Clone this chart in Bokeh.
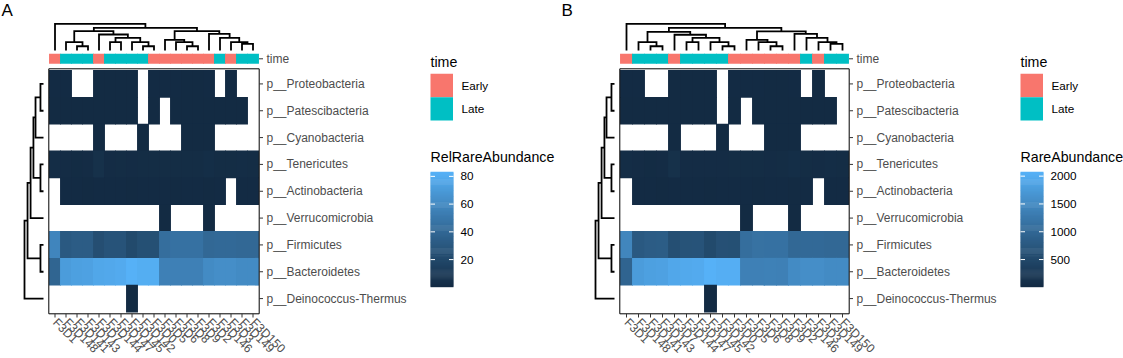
import numpy as np
from bokeh.plotting import figure
from bokeh.models import Range1d, ColumnDataSource, LinearColorMapper
from bokeh.layouts import row
from bokeh.transform import transform
from bokeh.core.properties import value
from bokeh.embed import file_html
from bokeh.resources import INLINE

# ---------------- data ----------------
samples = ["F3D1", "F3D148", "F3D141", "F3D143", "F3D7", "F3D144", "F3D147", "F3D145", "F3D142",
           "F3D0", "F3D5", "F3D6", "F3D8", "F3D9", "F3D2", "F3D146", "F3D3", "F3D149", "F3D150"]
time_group = ["Early", "Late", "Late", "Late", "Early", "Late", "Late", "Late", "Late",
              "Early", "Early", "Early", "Early", "Early", "Early", "Late", "Early", "Late", "Late"]
time_levels = ["Early", "Late"]
time_colors = ["#F8766D", "#00BFC4"]
phyla = ["p__Proteobacteria", "p__Patescibacteria", "p__Cyanobacteria", "p__Tenericutes",
         "p__Actinobacteria", "p__Verrucomicrobia", "p__Firmicutes", "p__Bacteroidetes",
         "p__Deinococcus-Thermus"]

# relative rare abundance (%), 0 = absent
rel_proteobacteria = [0.6, 0.5, 0, 0, 0.4, 0.3, 0.4, 0.2, 0, 0.5, 0.7, 0.5, 0.4, 0.3, 0.5, 0, 0.4, 0, 0]
rel_patescibacteria = [0.3, 0.2, 0.2, 0.3, 0.4, 0.2, 0.2, 0.1, 0, 0.3, 0, 0.4, 0.3, 0.2, 0.3, 0.2, 0.2, 0.3, 0]
rel_cyanobacteria = [0, 0, 0, 0, 0.2, 0, 0, 0, 0.1, 0, 0, 0, 0.2, 0.3, 0.2, 0, 0, 0, 0]
rel_tenericutes = [2.0, 1.2, 1.0, 1.1, 4.2, 1.3, 1.4, 1.2, 1.4, 1.5, 1.6, 1.5, 1.4, 1.5, 2.2, 1.6, 1.4, 1.8, 1.7]
rel_actinobacteria = [0, 0.6, 0.5, 0.4, 0.7, 0.5, 0.6, 0.4, 0.5, 0.6, 0.5, 0.4, 0.6, 0.5, 0.4, 0.5, 0, 0.6, 0.5]
rel_verrucomicrobia = [0, 0, 0, 0, 0, 0, 0, 0, 0, 0, 0.1, 0, 0, 0, 0.1, 0, 0, 0, 0]
rel_firmicutes = [58, 31, 33, 33, 24, 27, 27, 21, 25, 25, 44, 46, 46, 46, 40, 41, 41, 40, 40]
rel_bacteroidetes = [38, 71, 73, 74, 77, 78, 79, 83, 81, 81, 55, 55, 55, 55, 61, 63, 63, 61, 61]
rel_deinococcus = [0, 0, 0, 0, 0, 0, 0, 0.1, 0, 0, 0, 0, 0, 0, 0, 0, 0, 0, 0]

# rare abundance (counts), 0 = absent
abs_proteobacteria = [15, 12, 0, 0, 10, 8, 10, 5, 0, 12, 17, 12, 10, 8, 12, 0, 10, 0, 0]
abs_patescibacteria = [8, 5, 5, 8, 10, 5, 5, 3, 0, 8, 0, 10, 8, 5, 8, 5, 5, 8, 0]
abs_cyanobacteria = [0, 0, 0, 0, 5, 0, 0, 0, 3, 0, 0, 0, 5, 8, 5, 0, 0, 0, 0]
abs_tenericutes = [50, 30, 25, 28, 105, 33, 35, 30, 35, 38, 40, 38, 35, 38, 55, 40, 35, 45, 43]
abs_actinobacteria = [0, 15, 12, 10, 18, 12, 15, 10, 12, 15, 12, 10, 15, 12, 10, 12, 0, 15, 12]
abs_verrucomicrobia = [0, 0, 0, 0, 0, 0, 0, 0, 0, 0, 3, 0, 0, 0, 3, 0, 0, 0, 0]
abs_firmicutes = [1452, 778, 822, 829, 601, 673, 680, 524, 628, 622, 1098, 1151, 1146, 1149, 1003, 1027, 1021, 998, 1004]
abs_bacteroidetes = [948, 1771, 1822, 1849, 1927, 1952, 1973, 2071, 2024, 2028, 1376, 1372, 1381, 1370, 1524, 1577, 1571, 1522, 1529]
abs_deinococcus = [0, 0, 0, 0, 0, 0, 0, 3, 0, 0, 0, 0, 0, 0, 0, 0, 0, 0, 0]

# dendrograms: (child_a, child_b, height); ids < n are leaves (display order), n+k = k-th merge
col_merges_rel = [(2, 3, 0.16), (1, 19, 0.31), (5, 6, 0.31), (8, 9, 0.16), (7, 22, 0.31),
                  (21, 23, 0.475), (4, 24, 0.60), (20, 25, 0.725), (12, 13, 0.16), (11, 27, 0.31),
                  (10, 28, 0.40), (17, 18, 0.25), (16, 30, 0.31), (15, 31, 0.475), (14, 32, 0.625),
                  (29, 33, 0.725), (26, 34, 0.85), (0, 35, 1.0)]
col_merges_abs = [(2, 3, 0.16), (1, 19, 0.31), (5, 6, 0.31), (8, 9, 0.16), (7, 22, 0.31),
                  (21, 23, 0.475), (4, 24, 0.59), (20, 25, 0.70), (12, 13, 0.16), (11, 27, 0.31),
                  (10, 28, 0.40), (17, 18, 0.25), (16, 30, 0.31), (15, 31, 0.475), (14, 32, 0.625),
                  (29, 33, 0.72), (26, 34, 0.85), (0, 35, 1.0)]
row_merges_rel = [(0, 1, 0.16), (9, 2, 0.42), (3, 4, 0.16), (10, 11, 0.53), (12, 5, 0.68),
                  (6, 7, 0.16), (13, 14, 0.84), (15, 8, 1.0)]
row_merges_abs = [(0, 1, 0.16), (9, 2, 0.42), (3, 4, 0.16), (10, 11, 0.53), (12, 5, 0.68),
                  (6, 7, 0.16), (13, 14, 0.84), (15, 8, 1.0)]

rel_rows = [rel_proteobacteria, rel_patescibacteria, rel_cyanobacteria, rel_tenericutes,
            rel_actinobacteria, rel_verrucomicrobia, rel_firmicutes, rel_bacteroidetes, rel_deinococcus]
abs_rows = [abs_proteobacteria, abs_patescibacteria, abs_cyanobacteria, abs_tenericutes,
            abs_actinobacteria, abs_verrucomicrobia, abs_firmicutes, abs_bacteroidetes, abs_deinococcus]

# ---------------- colour gradient (CIELAB, like ggplot2) ----------------
_M = np.array([[0.4124, 0.3576, 0.1805], [0.2126, 0.7152, 0.0722], [0.0193, 0.1192, 0.9505]])
_W = _M @ np.ones(3)


def _lab(hexc):
    c = np.array([int(hexc[i:i + 2], 16) for i in (1, 3, 5)]) / 255.0
    lin = np.where(c <= 0.04045, c / 12.92, ((c + 0.055) / 1.055) ** 2.4)
    t = (_M @ lin) / _W
    d = 6 / 29
    f = np.where(t > d ** 3, np.cbrt(t), t / (3 * d * d) + 4 / 29)
    return np.array([116 * f[1] - 16, 500 * (f[0] - f[1]), 200 * (f[1] - f[2])])


def _hex(lab):
    L, a, b = lab
    fy = (L + 16) / 116
    f = np.array([fy + a / 500, fy, fy - b / 200])
    d = 6 / 29
    t = np.where(f > d, f ** 3, 3 * d * d * (f - 4 / 29)) * _W
    lin = np.linalg.solve(_M, t)
    lin = np.clip(lin, 0, 1)
    c = np.where(lin <= 0.0031308, 12.92 * lin, 1.055 * lin ** (1 / 2.4) - 0.055)
    c = np.clip(np.round(c * 255), 0, 255).astype(int)
    return "#%02x%02x%02x" % tuple(c)


_l0, _l1 = _lab("#132B43"), _lab("#56B1F7")
PALETTE = [_hex(_l0 + (_l1 - _l0) * s) for s in np.linspace(0, 1, 256)]

FONT = value("Liberation Sans")
AXIS_COL = "#4D4D4D"


def dendro_paths(merges, n):
    pos = {i: (i + 0.5, 0.0) for i in range(n)}
    paths = []
    for k, (a, b, h) in enumerate(merges):
        xa, ha = pos[a]
        xb, hb = pos[b]
        paths.append(([xa, xa, xb, xb], [ha, h, h, hb]))
        pos[n + k] = ((xa + xb) / 2.0, h)
    return paths


def make_panel(letter, fig_left, fig_w, hm_left, hm_right, rows, col_merges, row_merges,
               bar_title, bar_ticks):
    n_c, n_r = len(samples), len(phyla)
    hm_top, hm_bot = 70.0, 311.5
    fig_top, fig_h = 0.0, 358
    cw = (hm_right - hm_left) / n_c
    rh = (hm_bot - hm_top) / n_r

    def X(px):
        return (px - hm_left) / cw

    def Y(py):
        return (py - hm_top) / rh

    p = figure(width=fig_w, height=fig_h,
               x_range=Range1d(X(fig_left), X(fig_left + fig_w)),
               y_range=Range1d(Y(fig_top + fig_h), Y(fig_top)),
               x_axis_location=None, y_axis_location=None,
               output_backend="svg", toolbar_location=None, min_border=0,
               outline_line_color=None, background_fill_color="white", border_fill_color="white")
    p.xgrid.visible = False
    p.ygrid.visible = False

    vals = np.array(rows, dtype=float)
    nz = vals[vals > 0]
    vmin, vmax = float(nz.min()), float(nz.max())
    mapper = LinearColorMapper(palette=PALETTE, low=vmin, high=vmax, nan_color="white")

    # heatmap cells (slightly overlapping so that no seams show)
    rr, cc = np.nonzero(vals > 0)
    src = ColumnDataSource(dict(x=cc + 0.5, y=rr + 0.5, v=vals[rr, cc]))
    p.rect("x", "y", 1 + 0.9 / cw, 1 + 0.9 / rh, source=src, fill_color=transform("v", mapper),
           line_color=None)
    # panel border
    p.quad(left=[X(hm_left - 0.7)], right=[X(hm_right + 0.7)], top=[Y(68.3)], bottom=[Y(313.3)],
           fill_color=None, line_color="black", line_width=1)

    # right ticks and row labels
    ry = np.arange(n_r) + 0.5
    p.segment(x0=[X(hm_right + 0.7)] * n_r, y0=ry, x1=[X(hm_right + 4.5)] * n_r, y1=ry,
              line_color="#333333", line_width=1)
    p.text(x=[X(hm_right + 8)] * n_r, y=ry, text=phyla, text_font=FONT,
           text_font_size=value("12px"), text_color=AXIS_COL, text_baseline="middle", text_align="left")

    # bottom ticks and sample labels
    cx = np.arange(n_c) + 0.5
    p.segment(x0=cx, y0=[Y(313.3)] * n_c, x1=cx, y1=[Y(317)] * n_c, line_color="#333333", line_width=1)
    p.text(x=cx, y=[Y(320)] * n_c, text=samples, angle=-np.pi / 4, text_font=FONT,
           text_font_size=value("12px"), text_color=AXIS_COL, text_baseline="middle", text_align="left")

    # annotation bar (time)
    ann_col = [time_colors[time_levels.index(t)] for t in time_group]
    p.rect(x=cx, y=[Y(58.3)] * n_c, width=1 + 0.9 / cw, height=10.0 / rh, fill_color=ann_col,
           line_color=None)
    p.segment(x0=[X(hm_right + 0.5)], y0=[Y(58.3)], x1=[X(hm_right + 4.5)], y1=[Y(58.3)],
              line_color="#333333", line_width=1)
    p.text(x=[X(hm_right + 8)], y=[Y(58.3)], text=["time"], text_font=FONT,
           text_font_size=value("12px"), text_color=AXIS_COL, text_baseline="middle")

    # column dendrogram
    cp = dendro_paths(col_merges, n_c)
    p.multi_line(xs=[a for a, b in cp],
                 ys=[[Y(50.0 - h * 26.7) for h in b] for a, b in cp],
                 line_color="black", line_width=1.8, line_join="miter")
    # row dendrogram
    rp = dendro_paths(row_merges, n_r)
    p.multi_line(xs=[[X(hm_left - 6.0 - h * 19.0) for h in b] for a, b in rp],
                 ys=[a for a, b in rp],
                 line_color="black", line_width=1.8, line_join="miter")

    # legends
    lx = hm_right + 172.0
    p.text(x=[X(lx)], y=[Y(61.0)], text=["time"], text_font=FONT, text_font_size=value("14.2px"),
           text_color="black", text_baseline="middle")
    key_top = [73.3, 96.7]
    p.quad(left=[X(lx)] * 2, right=[X(lx + 22.5)] * 2, top=[Y(t) for t in key_top],
           bottom=[Y(t + 23.4) for t in key_top], fill_color=time_colors, line_color=None)
    p.text(x=[X(lx + 31)] * 2, y=[Y(t + 11.7) for t in key_top], text=time_levels, text_font=FONT,
           text_font_size=value("11.7px"), text_color="black", text_baseline="middle")

    p.text(x=[X(lx)], y=[Y(156.7)], text=[bar_title], text_font=FONT, text_font_size=value("14.2px"),
           text_color="black", text_baseline="middle")
    bar_top, bar_bot = 171.7, 286.7

    def BY(v):
        return bar_bot - (v - vmin) / (vmax - vmin) * (bar_bot - bar_top)

    nb = 120
    edges = np.linspace(vmin, vmax, nb + 1)
    mids = (edges[:-1] + edges[1:]) / 2
    bsrc = ColumnDataSource(dict(l=[X(lx)] * nb, r=[X(lx + 23)] * nb,
                                 t=[Y(BY(e) - 0.5) for e in edges[1:]], b=[Y(BY(e)) for e in edges[:-1]],
                                 v=mids))
    p.quad(left="l", right="r", top="t", bottom="b", source=bsrc,
           fill_color=transform("v", mapper), line_color=None)
    ty = [Y(BY(t)) for t in bar_ticks]
    nt = len(bar_ticks)
    p.segment(x0=[X(lx)] * nt, y0=ty, x1=[X(lx + 4.5)] * nt, y1=ty, line_color="white", line_width=1)
    p.segment(x0=[X(lx + 18.5)] * nt, y0=ty, x1=[X(lx + 23)] * nt, y1=ty, line_color="white", line_width=1)
    p.text(x=[X(lx + 30)] * nt, y=ty, text=[str(t) for t in bar_ticks], text_font=FONT,
           text_font_size=value("11.7px"), text_color="black", text_baseline="middle")

    # panel tag
    p.text(x=[X(fig_left + 1.0)], y=[Y(0.5)], text=[letter], text_font=FONT,
           text_font_size=value("17px"), text_color="black", text_baseline="top")
    return p


pA = make_panel("A", 0, 560, 49.0, 258.0, rel_rows, col_merges_rel, row_merges_rel,
                "RelRareAbundance", [20, 40, 60, 80])
pB = make_panel("B", 560, 563, 620.0, 848.0, abs_rows, col_merges_abs, row_merges_abs,
                "RareAbundance", [500, 1000, 1500, 2000])

layout = row(pA, pB)
open("out.html", "w").write(file_html(layout, INLINE))
